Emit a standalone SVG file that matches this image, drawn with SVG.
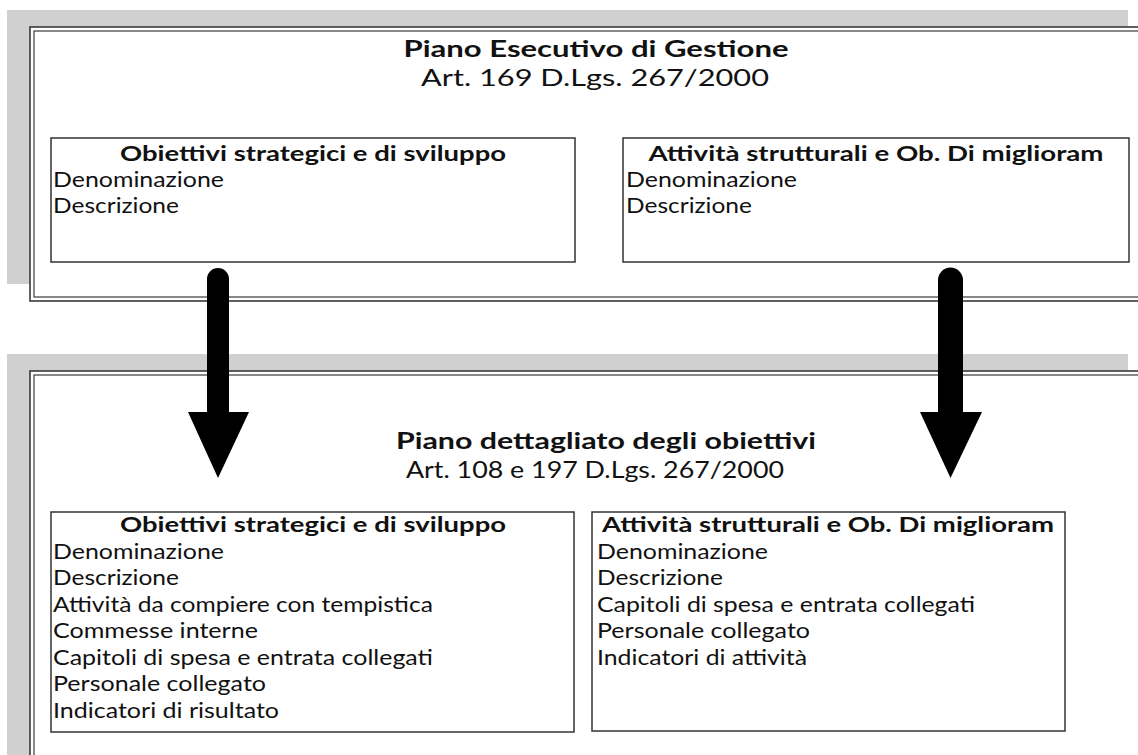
<svg xmlns="http://www.w3.org/2000/svg" width="1138" height="755" viewBox="0 0 1138 755">
<defs>
<style>
.shadow{fill:#d0d0d0}
.outer{fill:#fff;stroke:#3a3a3a;stroke-width:1.6}
.inner{fill:none;stroke:#3a3a3a;stroke-width:1.2}
.box{fill:#fff;stroke:#333;stroke-width:1.5}
text{font-family:Lato,"Open Sans","Liberation Sans",sans-serif;fill:#111}
.t{font-size:23px;font-weight:bold;text-anchor:middle}
.s{font-size:24px;text-anchor:middle}
.h{font-size:21.5px;font-weight:bold;text-anchor:middle}
.l{font-size:21.5px}
.arrow{fill:#000}
</style>
</defs>
<rect width="1138" height="755" fill="#fff"/>
<g id="piano-esecutivo">
<rect class="shadow" x="7" y="10" width="1121" height="274"/>
<rect class="outer" x="30" y="27" width="1130" height="274"/>
<rect class="inner" x="34" y="31" width="1130" height="266"/>
<text class="t" x="596" y="57" textLength="385" lengthAdjust="spacingAndGlyphs">Piano Esecutivo di Gestione</text>
<text class="s" x="595" y="86" textLength="348" lengthAdjust="spacingAndGlyphs">Art. 169 D.Lgs. 267/2000</text>
</g>
<g id="peg-obiettivi">
<rect class="box" x="51" y="138" width="524" height="124"/>
<text class="h" x="313" y="161" textLength="386" lengthAdjust="spacingAndGlyphs">Obiettivi strategici e di sviluppo</text>
<text class="l" x="53" y="187" textLength="171" lengthAdjust="spacingAndGlyphs">Denominazione</text>
<text class="l" x="53" y="213" textLength="126" lengthAdjust="spacingAndGlyphs">Descrizione</text>
</g>
<g id="peg-attivita">
<rect class="box" x="623" y="138" width="506" height="124"/>
<text class="h" x="876" y="161" textLength="455" lengthAdjust="spacingAndGlyphs">Attività strutturali e Ob. Di miglioram</text>
<text class="l" x="626" y="187" textLength="171" lengthAdjust="spacingAndGlyphs">Denominazione</text>
<text class="l" x="626" y="213" textLength="126" lengthAdjust="spacingAndGlyphs">Descrizione</text>
</g>
<g id="piano-dettagliato">
<rect class="shadow" x="7" y="354" width="1121" height="410"/>
<rect class="outer" x="30" y="371" width="1130" height="400"/>
<rect class="inner" x="34" y="375" width="1130" height="400"/>
<text class="t" x="606" y="449" textLength="420" lengthAdjust="spacingAndGlyphs">Piano dettagliato degli obiettivi</text>
<text class="s" x="595" y="478" textLength="378" lengthAdjust="spacingAndGlyphs">Art. 108 e 197 D.Lgs. 267/2000</text>
</g>
<g id="pdo-obiettivi">
<rect class="box" x="51" y="512" width="523" height="220"/>
<text class="h" x="313" y="532" textLength="386" lengthAdjust="spacingAndGlyphs">Obiettivi strategici e di sviluppo</text>
<text class="l" x="53" y="558.5" textLength="171" lengthAdjust="spacingAndGlyphs">Denominazione</text>
<text class="l" x="53" y="585" textLength="126" lengthAdjust="spacingAndGlyphs">Descrizione</text>
<text class="l" x="53" y="611.5" textLength="380" lengthAdjust="spacingAndGlyphs">Attività da compiere con tempistica</text>
<text class="l" x="53" y="638" textLength="205" lengthAdjust="spacingAndGlyphs">Commesse interne</text>
<text class="l" x="53" y="664.5" textLength="380" lengthAdjust="spacingAndGlyphs">Capitoli di spesa e entrata collegati</text>
<text class="l" x="53" y="691" textLength="213" lengthAdjust="spacingAndGlyphs">Personale collegato</text>
<text class="l" x="53" y="717.5" textLength="226" lengthAdjust="spacingAndGlyphs">Indicatori di risultato</text>
</g>
<g id="pdo-attivita">
<rect class="box" x="592" y="512" width="473" height="219"/>
<text class="h" x="828" y="532" textLength="452" lengthAdjust="spacingAndGlyphs">Attività strutturali e Ob. Di miglioram</text>
<text class="l" x="597" y="558.5" textLength="171" lengthAdjust="spacingAndGlyphs">Denominazione</text>
<text class="l" x="597" y="585" textLength="126" lengthAdjust="spacingAndGlyphs">Descrizione</text>
<text class="l" x="597" y="611.5" textLength="378" lengthAdjust="spacingAndGlyphs">Capitoli di spesa e entrata collegati</text>
<text class="l" x="597" y="638" textLength="213" lengthAdjust="spacingAndGlyphs">Personale collegato</text>
<text class="l" x="597" y="664.5" textLength="210" lengthAdjust="spacingAndGlyphs">Indicatori di attività</text>
</g>
<g id="connectors">
<path class="arrow" d="M207 279 A11 11 0 0 1 229 279 L229 412 L249 412 L218 478 L188 412 L207 412 Z"/>
<path class="arrow" d="M938 280 A12.5 12.5 0 0 1 963 280 L963 412 L982 412 L950.5 478 L920 412 L938 412 Z"/>
</g>
</svg>
